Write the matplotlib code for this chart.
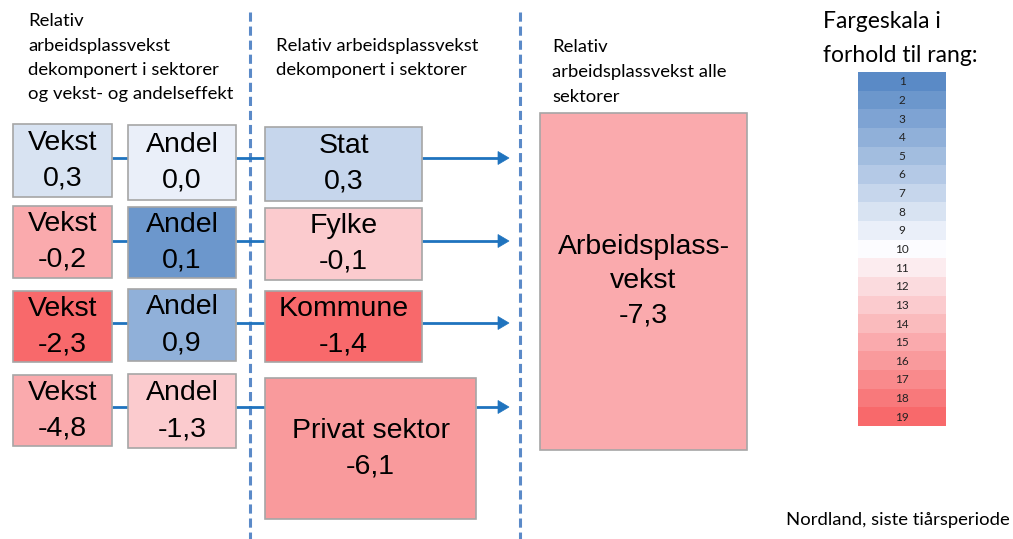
import matplotlib
matplotlib.use("Agg")
import matplotlib.pyplot as plt
from matplotlib.patches import Rectangle, Polygon
import numpy as np

# ---------------- data ----------------
vekst_values = ["0,3", "-0,2", "-2,3", "-4,8"]
vekst_ranks = [8, 15, 19, 15]
andel_values = ["0,0", "0,1", "0,9", "-1,3"]
andel_ranks = [9, 2, 4, 13]
sector_names = ["Stat", "Fylke", "Kommune", "Privat sektor"]
sector_values = ["0,3", "-0,1", "-1,4", "-6,1"]
sector_ranks = [7, 13, 19, 16]
total_label = ["Arbeidsplass-", "vekst"]
total_value = "-7,3"
total_rank = 15
scale_ranks = list(range(1, 20))

header_left = ["Relativ", "arbeidsplassvekst", "dekomponert i sektorer", "og vekst- og andelseffekt"]
header_mid = ["Relativ arbeidsplassvekst", "dekomponert i sektorer"]
header_right = ["Relativ", "arbeidsplassvekst alle", "sektorer"]
scale_title = ["Fargeskala i", "forhold til rang:"]
footnote = "Nordland, siste tiårsperiode"

# ---------------- style ----------------
BLUE = np.array([0x5A, 0x8A, 0xC6]) / 255
WHITE = np.array([0xFC, 0xFC, 0xFF]) / 255
RED = np.array([0xF8, 0x69, 0x6B]) / 255

def rank_color(r):
    if r <= 10:
        t = (r - 1) / 9
        return BLUE + (WHITE - BLUE) * t
    t = (r - 10) / 9
    return WHITE + (RED - WHITE) * t

W, H = 1013, 539
fig = plt.figure(figsize=(W / 100, H / 100), dpi=100)
ax = fig.add_axes([0, 0, 1, 1])
ax.set_xlim(0, W)
ax.set_ylim(H, 0)
ax.axis("off")

BOXFONT = "Liberation Sans"
HFONT = "Lato"
LINE_C = "#1F73BE"
EDGE_C = "#A6A6A6"

def box(x0, y0, x1, y1, rank, lines, fs=20.5, dy=36):
    ax.add_patch(Rectangle((x0, y0), x1 - x0, y1 - y0, facecolor=rank_color(rank),
                           edgecolor=EDGE_C, lw=1.2, zorder=3))
    cx, cy = (x0 + x1) / 2, (y0 + y1) / 2
    n = len(lines)
    for i, t in enumerate(lines):
        yy = cy + (i - (n - 1) / 2) * dy
        ax.text(cx, yy, t, ha="center", va="center", fontsize=fs, family=BOXFONT,
                color="black", zorder=4)

# rows layout
vekst_y = [(124, 197), (206, 278), (291, 362), (375, 446)]
andel_y = [(125, 200), (207, 278), (289, 361), (374, 448)]
sector_y = [(127, 201), (208, 280), (291, 362), (378, 519)]
line_y = [158, 241, 323, 407]
sector_x1 = [422, 422, 422, 476]

for i in range(4):
    y = line_y[i]
    # connector lines
    ax.plot([112, 128], [y, y], color=LINE_C, lw=2, zorder=2, solid_capstyle="butt")
    ax.plot([236, 265], [y, y], color=LINE_C, lw=2, zorder=2, solid_capstyle="butt")
    ax.plot([sector_x1[i], 500], [y, y], color=LINE_C, lw=2, zorder=2, solid_capstyle="butt")
    ax.add_patch(Polygon([(498, y - 6.5), (509, y), (498, y + 6.5)], closed=True,
                         facecolor=LINE_C, edgecolor=LINE_C, lw=0.5, zorder=2))
    box(13, vekst_y[i][0], 112, vekst_y[i][1], vekst_ranks[i], ["Vekst", vekst_values[i]])
    box(128, andel_y[i][0], 236, andel_y[i][1], andel_ranks[i], ["Andel", andel_values[i]])
    box(265, sector_y[i][0], sector_x1[i], sector_y[i][1], sector_ranks[i],
        [sector_names[i], sector_values[i]])

# total box
box(540, 113, 747, 450, total_rank, total_label + [total_value], dy=34)

# dashed separators
for x in (250, 520):
    ax.plot([x, x], [12, H], color="#5B8AC8", lw=2.2, ls=(0, (3.0, 1.6)), zorder=1)

# headers
def header(x, y0, lines, fs=13.3, dy=24):
    for i, t in enumerate(lines):
        ax.text(x, y0 + i * dy, t, ha="left", va="center", fontsize=fs, family=HFONT,
                color="black")

header(28, 21, header_left, dy=24.5)
header(276, 46, header_mid)
header(552, 47, header_right, dy=25)

for i, t in enumerate(scale_title):
    ax.text(823, 22 + i * 33, t, ha="left", va="center", fontsize=16.5, family=HFONT,
            color="black")

# colour scale
sx0, sx1, sy0, sy1 = 858, 946, 72, 426
ch = (sy1 - sy0) / len(scale_ranks)
for i, r in enumerate(scale_ranks):
    y = sy0 + i * ch
    ax.add_patch(Rectangle((sx0, y), sx1 - sx0, ch, facecolor=rank_color(r),
                           edgecolor="none", zorder=3))
    ax.text((sx0 + sx1) / 2, y + ch / 2 + 0.5, str(r), ha="center", va="center",
            fontsize=8.5, family=HFONT, color="#222222", zorder=4)

ax.text(1010, 520, footnote, ha="right", va="center", fontsize=13.3, family=HFONT,
        color="black")

fig.savefig("out.png", dpi=100)
